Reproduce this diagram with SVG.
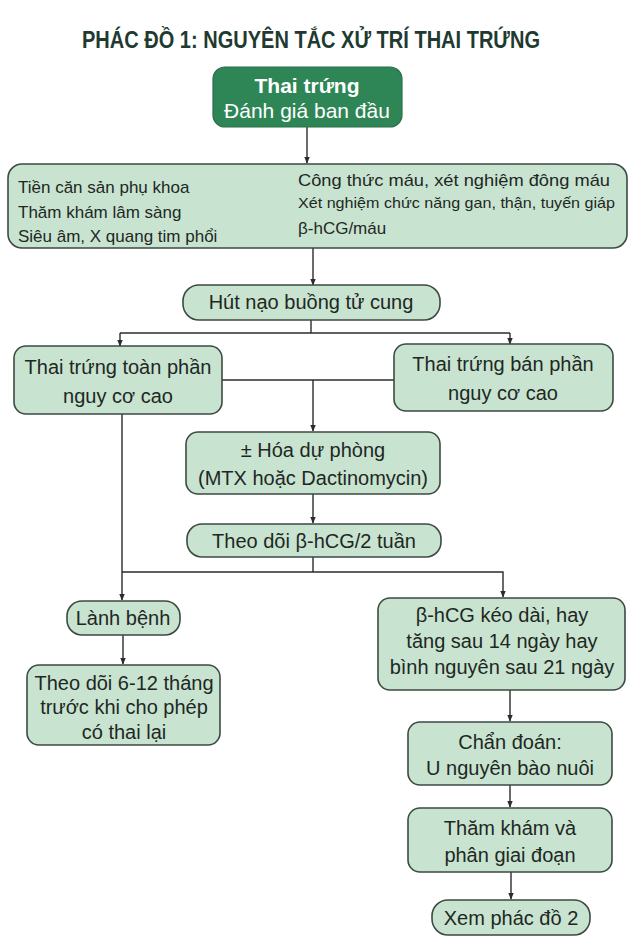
<svg xmlns="http://www.w3.org/2000/svg" width="636" height="952" viewBox="0 0 636 952">
<defs>
<marker id="arr" viewBox="0 0 10 10" refX="9" refY="5" markerWidth="7" markerHeight="7" orient="auto" markerUnits="userSpaceOnUse">
<path d="M0,1 L10,5 L0,9 Z" fill="#2b2b2b"/>
</marker>
<style>
.box{fill:#c9e3d1;stroke:#3c4a42;stroke-width:1.6}
.t{font-family:"Liberation Sans","Noto Sans",Arial,sans-serif;font-size:20px;fill:#1e2823;text-anchor:middle}
.s{font-family:"Liberation Sans","Noto Sans",Arial,sans-serif;font-size:17px;fill:#1e2823}
.c{fill:none;stroke:#2b2b2b;stroke-width:1.4}
.title{font-family:"Liberation Sans","Noto Sans",Arial,sans-serif;font-size:23px;font-weight:bold;fill:#1f3a30}
</style>
</defs>
<rect width="636" height="952" fill="#ffffff"/>
<text class="title" x="82" y="48" textLength="458" lengthAdjust="spacingAndGlyphs">PHÁC ĐỒ 1: NGUYÊN TẮC XỬ TRÍ THAI TRỨNG</text>

<g id="connectors">
<path class="c" d="M307,127 V163" marker-end="url(#arr)"/>
<path class="c" d="M313,248 V285" marker-end="url(#arr)"/>
<path class="c" d="M311,320 V333"/>
<path class="c" d="M120,333 H510"/>
<path class="c" d="M120,333 V346" marker-end="url(#arr)"/>
<path class="c" d="M510,333 V344" marker-end="url(#arr)"/>
<path class="c" d="M222,380 H394"/>
<path class="c" d="M313,380 V431" marker-end="url(#arr)"/>
<path class="c" d="M122,414 V600" marker-end="url(#arr)"/>
<path class="c" d="M313,494 V523" marker-end="url(#arr)"/>
<path class="c" d="M313,557 V572"/>
<path class="c" d="M122,572 H503 V597" marker-end="url(#arr)"/>
<path class="c" d="M123,635 V664" marker-end="url(#arr)"/>
<path class="c" d="M510,690 V721" marker-end="url(#arr)"/>
<path class="c" d="M510,785 V807" marker-end="url(#arr)"/>
<path class="c" d="M511,872 V899" marker-end="url(#arr)"/>
</g>

<g id="n_start">
<rect x="213" y="67" width="189" height="60" rx="12" fill="#2e8656" stroke="#2a6e49" stroke-width="1.2"/>
<text class="t" x="307" y="93" style="fill:#ffffff;font-weight:bold;font-size:21px">Thai trứng</text>
<text class="t" x="307" y="118" style="fill:#ffffff;font-size:21px">Đánh giá ban đầu</text>
</g>

<g id="n_eval">
<rect class="box" x="8" y="164" width="619" height="84" rx="14"/>
<text class="s" x="18" y="193">Tiền căn sản phụ khoa</text>
<text class="s" x="18" y="218">Thăm khám lâm sàng</text>
<text class="s" x="18" y="242">Siêu âm, X quang tim phổi</text>
<text class="s" x="298" y="186" textLength="312" lengthAdjust="spacingAndGlyphs">Công thức máu, xét nghiệm đông máu</text>
<text class="s" x="298" y="208" style="font-size:15px" textLength="317" lengthAdjust="spacingAndGlyphs">Xét nghiệm chức năng gan, thận, tuyến giáp</text>
<text class="s" x="298" y="234">β-hCG/máu</text>
</g>

<g id="n_hut">
<rect class="box" x="183" y="285" width="257" height="35" rx="16"/>
<text class="t" x="311" y="309">Hút nạo buồng tử cung</text>
</g>

<g id="n_toan">
<rect class="box" x="14" y="346" width="208" height="68" rx="12"/>
<text class="t" x="118" y="374">Thai trứng toàn phần</text>
<text class="t" x="118" y="403">nguy cơ cao</text>
</g>

<g id="n_ban">
<rect class="box" x="394" y="344" width="219" height="67" rx="12"/>
<text class="t" x="503" y="371">Thai trứng bán phần</text>
<text class="t" x="503" y="400">nguy cơ cao</text>
</g>

<g id="n_hoa">
<rect class="box" x="186" y="432" width="254" height="62" rx="12"/>
<text class="t" x="313" y="457">± Hóa dự phòng</text>
<text class="t" x="313" y="485">(MTX hoặc Dactinomycin)</text>
</g>

<g id="n_theodoi">
<rect class="box" x="187" y="524" width="254" height="33" rx="15"/>
<text class="t" x="314" y="548">Theo dõi β-hCG/2 tuần</text>
</g>

<g id="n_lanh">
<rect class="box" x="67" y="601" width="113" height="34" rx="15"/>
<text class="t" x="123" y="625">Lành bệnh</text>
</g>

<g id="n_theodoi2">
<rect class="box" x="27" y="665" width="193" height="80" rx="12"/>
<text class="t" x="124" y="690">Theo dõi 6-12 tháng</text>
<text class="t" x="124" y="714">trước khi cho phép</text>
<text class="t" x="124" y="739">có thai lại</text>
</g>

<g id="n_bhcg">
<rect class="box" x="378" y="598" width="247" height="92" rx="12"/>
<text class="t" x="502" y="622">β-hCG kéo dài, hay</text>
<text class="t" x="502" y="648">tăng sau 14 ngày hay</text>
<text class="t" x="502" y="674">bình nguyên sau 21 ngày</text>
</g>

<g id="n_chan">
<rect class="box" x="408" y="722" width="204" height="63" rx="12"/>
<text class="t" x="510" y="749">Chẩn đoán:</text>
<text class="t" x="510" y="775">U nguyên bào nuôi</text>
</g>

<g id="n_tham">
<rect class="box" x="408" y="808" width="204" height="64" rx="12"/>
<text class="t" x="510" y="835">Thăm khám và</text>
<text class="t" x="510" y="862">phân giai đoạn</text>
</g>

<g id="n_xem">
<rect class="box" x="432" y="900" width="158" height="35" rx="16"/>
<text class="t" x="511" y="925">Xem phác đồ 2</text>
</g>
</svg>
